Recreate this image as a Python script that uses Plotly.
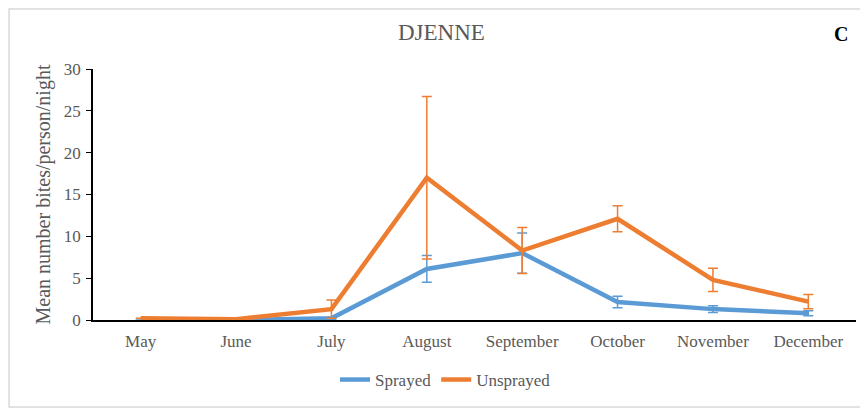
import plotly.graph_objects as go

months = ["May", "June", "July", "August", "September", "October", "November", "December"]
sprayed = [0.0, 0.0, 0.2, 6.1, 8.0, 2.15, 1.3, 0.8]
sprayed_err = [0.0, 0.0, 0.1, 1.6, 2.4, 0.7, 0.4, 0.3]
unsprayed = [0.2, 0.1, 1.3, 17.0, 8.3, 12.1, 4.8, 2.2]
unsprayed_err = [0.0, 0.0, 1.1, 9.7, 2.75, 1.55, 1.4, 0.85]

BLUE = "#5B9BD5"
ORANGE = "#ED7D31"
GRAY = "#595959"
FONT = "Liberation Serif"

fig = go.Figure()
fig.add_trace(go.Scatter(
    x=months, y=sprayed, name="Sprayed", mode="lines",
    line=dict(color=BLUE, width=4.5),
    error_y=dict(type="data", array=sprayed_err, visible=True, color=BLUE, thickness=1.5, width=5),
))
fig.add_trace(go.Scatter(
    x=months, y=unsprayed, name="Unsprayed", mode="lines",
    line=dict(color=ORANGE, width=4.5),
    error_y=dict(type="data", array=unsprayed_err, visible=True, color=ORANGE, thickness=1.5, width=5),
))

fig.update_layout(
    width=860, height=402,
    margin=dict(l=85, r=12, t=61, b=90, autoexpand=False),
    paper_bgcolor="white", plot_bgcolor="white",
    font=dict(family=FONT, color=GRAY, size=17),
    showlegend=True,
    legend=dict(orientation="h", x=0.462, xanchor="center", y=-0.239, yanchor="middle",
                font=dict(size=17, color=GRAY)),
    xaxis=dict(type="category", range=[-0.5, 7.5], showline=True, linecolor="black", linewidth=1.5,
               ticks="", showgrid=False, tickfont=dict(size=17, color=GRAY), automargin=False,
               ticklabelstandoff=5),
    yaxis=dict(range=[0, 30], dtick=5, showline=True, linecolor="black", linewidth=1.5,
               ticks="outside", ticklen=5, tickcolor="black", showgrid=False, zeroline=False,
               tickfont=dict(size=17, color=GRAY), automargin=False, ticklabelstandoff=2,
               title=dict(text="Mean number bites/person/night", font=dict(size=20, color=GRAY), standoff=8)),
    annotations=[
        dict(text="DJENNE", xref="paper", yref="paper", x=0.457, y=1.0, yshift=37,
             xanchor="center", yanchor="middle", showarrow=False, font=dict(size=23, color=GRAY)),
        dict(text="<b>C</b>", xref="paper", yref="paper", x=0.98, y=1.0, yshift=35,
             xanchor="center", yanchor="middle", showarrow=False, font=dict(size=20, color="black")),
    ],
    shapes=[
        dict(type="rect", xref="paper", yref="paper", x0=-0.110, x1=1.008, y0=-0.347, y1=1.239,
             line=dict(color="#D9D9D9", width=1.5), fillcolor="rgba(0,0,0,0)", layer="below"),
    ],
)

fig.write_html("out.html")
